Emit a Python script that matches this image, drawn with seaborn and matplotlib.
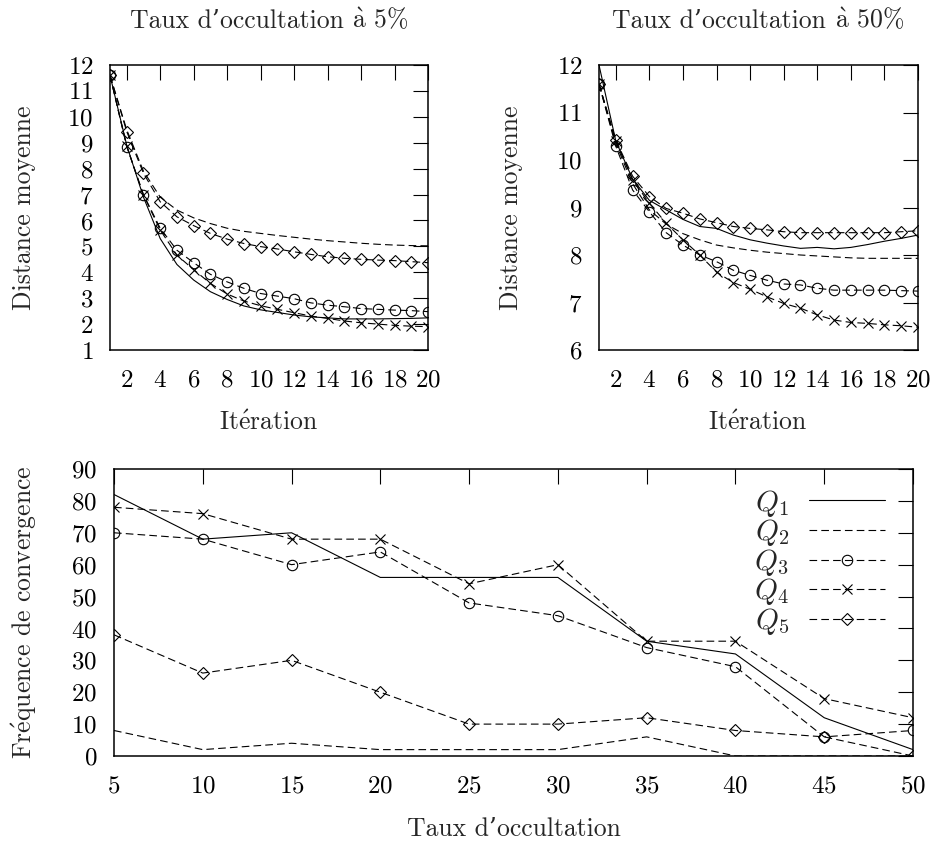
import numpy as np
import pandas as pd
import matplotlib
matplotlib.use("Agg")
import matplotlib.pyplot as plt
import seaborn as sns

# ---------------- data ----------------
iterations = list(range(1, 21))

# Taux d'occultation 5 %
tl_q1 = [11.6, 8.9, 6.9, 5.3, 4.3, 3.7, 3.25, 2.95, 2.7, 2.55, 2.45, 2.35, 2.28, 2.24, 2.2, 2.2, 2.2, 2.21, 2.22, 2.24]
tl_q2 = [11.6, 9.5, 7.9, 6.9, 6.4, 6.1, 5.88, 5.7, 5.58, 5.5, 5.42, 5.35, 5.28, 5.22, 5.17, 5.12, 5.08, 5.05, 5.03, 5.02]
tl_q3 = [11.6, 8.85, 7.0, 5.7, 4.85, 4.37, 3.92, 3.63, 3.38, 3.18, 3.08, 2.98, 2.82, 2.73, 2.67, 2.6, 2.57, 2.54, 2.52, 2.48]
tl_q4 = [11.6, 8.87, 6.98, 5.63, 4.66, 4.1, 3.57, 3.16, 2.89, 2.71, 2.57, 2.44, 2.31, 2.22, 2.12, 2.05, 2.0, 1.95, 1.92, 1.9]
tl_q5 = [11.6, 9.43, 7.82, 6.72, 6.14, 5.8, 5.5, 5.28, 5.11, 4.99, 4.9, 4.79, 4.69, 4.6, 4.54, 4.5, 4.47, 4.45, 4.41, 4.37]

# Taux d'occultation 50 %
tr_q1 = [12.0, 10.4, 9.6, 9.15, 8.95, 8.75, 8.6, 8.56, 8.42, 8.32, 8.25, 8.19, 8.14, 8.16, 8.13, 8.16, 8.22, 8.29, 8.35, 8.42]
tr_q2 = [11.6, 10.35, 9.5, 8.95, 8.65, 8.45, 8.32, 8.21, 8.15, 8.1, 8.06, 8.03, 8.0, 7.98, 7.96, 7.94, 7.93, 7.93, 7.93, 7.93]
tr_q3 = [11.6, 10.29, 9.37, 8.91, 8.47, 8.21, 8.0, 7.86, 7.68, 7.57, 7.47, 7.39, 7.37, 7.3, 7.26, 7.26, 7.26, 7.26, 7.25, 7.24]
tr_q4 = [11.6, 10.39, 9.58, 9.09, 8.67, 8.32, 8.0, 7.64, 7.42, 7.28, 7.12, 6.98, 6.88, 6.74, 6.63, 6.58, 6.56, 6.53, 6.51, 6.48]
tr_q5 = [11.6, 10.42, 9.66, 9.23, 8.98, 8.88, 8.76, 8.68, 8.6, 8.56, 8.53, 8.49, 8.47, 8.47, 8.47, 8.47, 8.47, 8.47, 8.49, 8.51]

# Fréquence de convergence
taux = [5, 10, 15, 20, 25, 30, 35, 40, 45, 50]
freq_q1 = [82, 68, 70, 56, 56, 56, 36, 32, 12, 2]
freq_q2 = [8, 2, 4, 2, 2, 2, 6, 0, 0, 0]
freq_q3 = [70, 68, 60, 64, 48, 44, 34, 28, 6, 8]
freq_q4 = [78, 76, 68, 68, 54, 60, 36, 36, 18, 12]
freq_q5 = [38, 26, 30, 20, 10, 10, 12, 8, 6, 0]

series_names = ["$Q_1$", "$Q_2$", "$Q_3$", "$Q_4$", "$Q_5$"]
tick_iter = list(range(2, 21, 2))

# ---------------- style ----------------
sns.set_theme(style="white")
plt.rcParams["font.family"] = ["cmr10", "DejaVu Serif"]
plt.rcParams["mathtext.fontset"] = "cm"
plt.rcParams["axes.formatter.use_mathtext"] = True
plt.rcParams["lines.scale_dashes"] = False

W, H = 939, 843
fig = plt.figure(figsize=(W / 100, H / 100), dpi=100)
fig.patch.set_facecolor("white")


def box(l, r, t, b):
    return [l / W, (H - b) / H, (r - l) / W, (b - t) / H]


ax_tl = fig.add_axes(box(110, 428, 65, 350))
ax_tr = fig.add_axes(box(599, 918, 65, 350))
ax_b = fig.add_axes(box(114, 913, 469, 756))

DASH = (0, (5.5, 3.0))
styles = [
    dict(linestyle="-", marker=None),
    dict(linestyle=DASH, marker=None),
    dict(linestyle=DASH, marker="o", markersize=7.5),
    dict(linestyle=DASH, marker="x", markersize=6.5),
    dict(linestyle=DASH, marker="D", markersize=6.0),
]


def draw(ax, x, ys):
    for name, y, st in zip(series_names, ys, styles):
        df = pd.DataFrame({"x": x, "y": y})
        kw = dict(color="black", linewidth=0.8, linestyle=st["linestyle"])
        if st["marker"] is not None:
            kw.update(marker=st["marker"], markersize=st["markersize"],
                      markerfacecolor="none", markeredgecolor="black",
                      markeredgewidth=0.8)
        sns.lineplot(data=df, x="x", y="y", ax=ax, label=name, **kw)


TICK_FS = 18


def style_axes(ax):
    ax.set_xlabel("")
    ax.set_ylabel("")
    for s in ax.spines.values():
        s.set_visible(True)
        s.set_color("black")
        s.set_linewidth(1.1)
    ax.tick_params(direction="in", length=11, width=0.8, top=True, right=True,
                   labelsize=TICK_FS, colors="black")
    ax.tick_params(axis="x", pad=14)
    ax.tick_params(axis="y", pad=12)
    ax.set_facecolor("white")
    ax.grid(False)


draw(ax_tl, iterations, [tl_q1, tl_q2, tl_q3, tl_q4, tl_q5])
draw(ax_tr, iterations, [tr_q1, tr_q2, tr_q3, tr_q4, tr_q5])
draw(ax_b, taux, [freq_q1, freq_q2, freq_q3, freq_q4, freq_q5])

ax_tl.set_xlim(1, 20)
ax_tl.set_ylim(1, 12)
ax_tl.set_xticks(tick_iter)
ax_tl.set_yticks(range(1, 13))
ax_tl.get_legend().remove()

ax_tr.set_xlim(1, 20)
ax_tr.set_ylim(6, 12)
ax_tr.set_xticks(tick_iter)
ax_tr.set_yticks(range(6, 13))
ax_tr.get_legend().remove()

ax_b.set_xlim(5, 50)
ax_b.set_ylim(0, 90)
ax_b.set_xticks(taux)
ax_b.set_yticks(range(0, 91, 10))

for ax in (ax_tl, ax_tr, ax_b):
    style_axes(ax)

leg = ax_b.legend(loc="upper right", bbox_to_anchor=(0.965, 0.935), frameon=False,
                  markerfirst=False, fontsize=21, handlelength=2.6,
                  labelspacing=-0.05, handletextpad=0.7, borderaxespad=0.0,
                  borderpad=0.0)

# texts
fs = 18.5
e_ac = r"$\mathrm{\acute{e}}$"
a_gr = r"$\mathrm{\grave{a}}$"


def two_part_title(xc_px, base_px, s1, s2):
    t1 = fig.text(0, 1 - base_px / H, s1, ha="left", va="baseline", fontsize=fs)
    t2 = fig.text(0, 1 - base_px / H, s2, ha="left", va="baseline", fontsize=fs)
    fig.canvas.draw()
    r = fig.canvas.get_renderer()
    w1 = t1.get_window_extent(r).width
    w2 = t2.get_window_extent(r).width
    gap = 0.333 * fs * 100 / 72
    x0 = xc_px - (w1 + gap + w2) / 2
    t1.set_x(x0 / W)
    t2.set_x((x0 + w1 + gap) / W)


two_part_title(269, 28, "Taux d’occultation", a_gr + " 5%")
two_part_title(758, 28, "Taux d’occultation", a_gr + " 50%")
fig.text(24 / W, 1 - 208 / H, "Distance moyenne", ha="center", va="center", rotation=90, fontsize=fs)
fig.text(511 / W, 1 - 208 / H, "Distance moyenne", ha="center", va="center", rotation=90, fontsize=fs)
fig.text(269 / W, 1 - 423 / H, "It" + e_ac + "ration", ha="center", va="center", fontsize=fs)
fig.text(758 / W, 1 - 423 / H, "It" + e_ac + "ration", ha="center", va="center", fontsize=fs)
fig.text(24 / W, 1 - 612 / H, "Fr" + e_ac + "quence de convergence", ha="center", va="center", rotation=90, fontsize=fs)
fig.text(514 / W, 1 - 829 / H, "Taux d’occultation", ha="center", va="center", fontsize=fs)

fig.savefig("out.png", dpi=100, facecolor="white")
